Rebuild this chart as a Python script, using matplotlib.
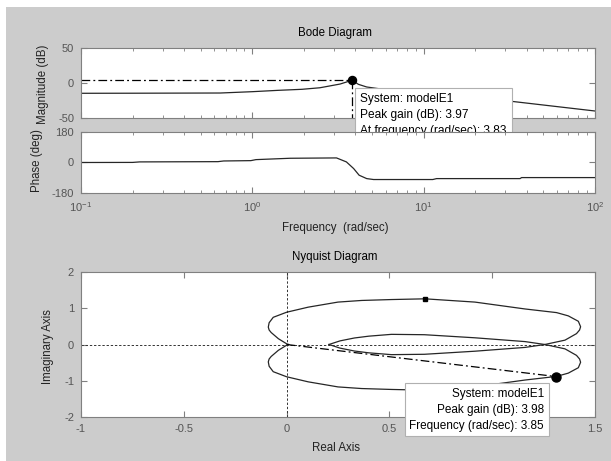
import numpy as np
import matplotlib
matplotlib.use('Agg')
import matplotlib.pyplot as plt
from matplotlib.patches import Rectangle

plt.rcParams['font.family'] = ['Liberation Sans', 'DejaVu Sans']
plt.rcParams['axes.unicode_minus'] = False
plt.rcParams['mathtext.default'] = 'regular'

# Bode magnitude of modelE1
w_mag = [0.1, 0.2, 0.65, 1.0, 1.41, 1.95, 2.48, 3.25, 3.83, 4.16, 4.65, 6.0, 10.0, 20.0, 33.4, 100.0]
mag_db = [-14.7, -14.6, -14.3, -12.4, -10.5, -9.0, -6.8, -1.5, 3.97, -1.9, -5.7, -9.5, -15.0, -21.0, -26.5, -40.0]

# Bode phase of modelE1
w_ph = [0.1, 0.2, 0.22, 0.63, 0.68, 0.98, 1.05, 1.66, 3.1, 3.54, 3.9, 4.2, 4.65, 5.1, 11.3, 11.9, 36.5, 37.3, 100.0]
phase_deg = [0, 0.5, 3.5, 5, 9, 11, 17, 25, 27, 3.5, -35.5, -75, -95, -100.5, -100.5, -95, -95, -89, -89]

peak_w = 3.83
peak_db = 3.97

# Nyquist, positive frequencies (negative ones are the mirror image)
nyq_re = np.array([0.206, 0.26, 0.33, 0.40, 0.51, 0.67, 0.916, 1.16, 1.256, 1.354, 1.41, 1.425,
                   1.43, 1.419, 1.37, 1.313, 1.16, 0.916, 0.673, 0.51, 0.365, 0.25, 0.105, 0.0,
                   -0.065, -0.085, -0.089, -0.085, -0.075, -0.04, 0.0, 0.01])
nyq_im = np.array([0.0, 0.10, 0.18, 0.23, 0.28, 0.27, 0.185, 0.08, 0.0, -0.12, -0.30, -0.40,
                   -0.49, -0.64, -0.79, -0.88, -0.98, -1.17, -1.26, -1.24, -1.215, -1.17, -1.03, -0.89,
                   -0.75, -0.60, -0.48, -0.40, -0.33, -0.16, -0.02, 0.0])
arrow_idx = 18

nyq_peak_db = 3.98
nyq_peak_w = 3.85
nyq_peak_phase = -34.0

# "1" sits under the data tip, so it is left blank
re_ticks = [-1, -0.5, 0, 0.5, 1, 1.5]
re_labels = ['-1', '-0.5', '0', '0.5', '', '1.5']

fig = plt.figure(figsize=(6.11, 4.61), dpi=100)
fig.patch.set_facecolor('white')
W, H = 611.0, 461.0
fig.patches.append(Rectangle((6 / W, 0), 1 - 6 / W, 1 - 7 / H, transform=fig.transFigure,
                             facecolor='#cccccc', edgecolor='none', zorder=-10))


def fx(px):
    return px / W


def fy(py):
    return 1 - py / H


def style(ax):
    for s in ax.spines.values():
        s.set_color('#808080')
        s.set_linewidth(0.8)
    ax.tick_params(which='both', direction='in', top=True, right=True, colors='#808080',
                   labelcolor='#555555', labelsize=8, pad=5)
    ax.tick_params(which='major', length=4)
    ax.tick_params(which='minor', length=2.5)


line_kw = dict(color='#262626', lw=0.9)
dashdot = (0, (7, 2.5, 1.5, 2.5))
tip_box = dict(boxstyle='square,pad=0.4', fc='white', ec='#b0b0b0', lw=0.8)

ax_mag = fig.add_axes([fx(81), fy(118), (595 - 81) / W, 70 / H])
ax_ph = fig.add_axes([fx(81), fy(193), (595 - 81) / W, 61 / H])
ax_ny = fig.add_axes([fx(81), fy(417), (595 - 81) / W, 145 / H])
ax_mag.set_zorder(1)
ax_ph.set_zorder(2)

# magnitude
ax_mag.semilogx(w_mag, mag_db, **line_kw)
ax_mag.plot([0.1, peak_w], [peak_db, peak_db], color='black', lw=0.9, linestyle=dashdot)
ax_mag.plot([peak_w, peak_w], [peak_db, -50], color='black', lw=0.9, linestyle=dashdot)
ax_mag.plot(peak_w, peak_db, 'o', color='black', ms=5.8)
ax_mag.set_xlim(0.1, 100)
ax_mag.set_ylim(-50, 50)
ax_mag.set_yticks([-50, 0, 50])
style(ax_mag)
ax_mag.tick_params(labelbottom=False)
ax_mag.annotate('System: modelE1\nPeak gain (dB): %.2f\nAt frequency (rad/sec): %.2f' % (peak_db, peak_w),
                xy=(peak_w, peak_db), xytext=(8, -13), textcoords='offset pixels',
                ha='left', va='top', fontsize=8.6, linespacing=1.45, color='black',
                bbox=tip_box, annotation_clip=False, zorder=5)

# phase
ax_ph.semilogx(w_ph, phase_deg, **line_kw)
ax_ph.set_xlim(0.1, 100)
ax_ph.set_ylim(-180, 180)
ax_ph.set_yticks([-180, 0, 180])
style(ax_ph)

# nyquist
ax_ny.axhline(0, color='#333333', lw=0.7, linestyle=(0, (2.4, 1.9)))
ax_ny.axvline(0, color='#333333', lw=0.7, linestyle=(0, (2.4, 1.9)))
ax_ny.plot(nyq_re, nyq_im, **line_kw)
ax_ny.plot(nyq_re, -nyq_im, **line_kw)
ax_ny.plot(nyq_re[arrow_idx], -nyq_im[arrow_idx], 's', color='black', ms=2.2)
mag_lin = 10 ** (nyq_peak_db / 20)
pk_re = mag_lin * np.cos(np.radians(nyq_peak_phase))
pk_im = mag_lin * np.sin(np.radians(nyq_peak_phase))
ax_ny.plot([0, pk_re], [0, pk_im], color='black', lw=0.9, linestyle=dashdot)
ax_ny.plot(pk_re, pk_im, 'o', color='black', ms=6.5)
ax_ny.set_xlim(-1, 1.5)
ax_ny.set_ylim(-2, 2)
ax_ny.set_xticks(re_ticks)
ax_ny.set_xticklabels(re_labels)
ax_ny.set_yticks([-2, -1, 0, 1, 2])
style(ax_ny)
ax_ny.annotate('System: modelE1\nPeak gain (dB): %.2f\nFrequency (rad/sec): %.2f' % (nyq_peak_db, nyq_peak_w),
               xy=(pk_re, pk_im), xytext=(-12, -11), textcoords='offset pixels',
               ha='right', va='top', multialignment='right', fontsize=8.5, linespacing=1.45,
               color='black', bbox=tip_box, annotation_clip=False, zorder=5)

# titles and labels
fig.text(fx(335), fy(33), 'Bode Diagram', ha='center', va='center', fontsize=8.3)
fig.text(fx(335), fy(228), 'Frequency  (rad/sec)', ha='center', va='center', fontsize=8.3, color='#222222')
fig.text(fx(43), fy(84), 'Magnitude (dB)', ha='center', va='center', rotation=90, fontsize=8.3, color='#222222')
fig.text(fx(37), fy(161), 'Phase (deg)', ha='center', va='center', rotation=90, fontsize=8.3, color='#222222')
fig.text(fx(335), fy(257), 'Nyquist Diagram', ha='center', va='center', fontsize=8.3)
fig.text(fx(336), fy(448), 'Real Axis', ha='center', va='center', fontsize=8.3, color='#222222')
fig.text(fx(48), fy(347), 'Imaginary Axis', ha='center', va='center', rotation=90, fontsize=8.3, color='#222222')

fig.savefig('out.png', dpi=100)
